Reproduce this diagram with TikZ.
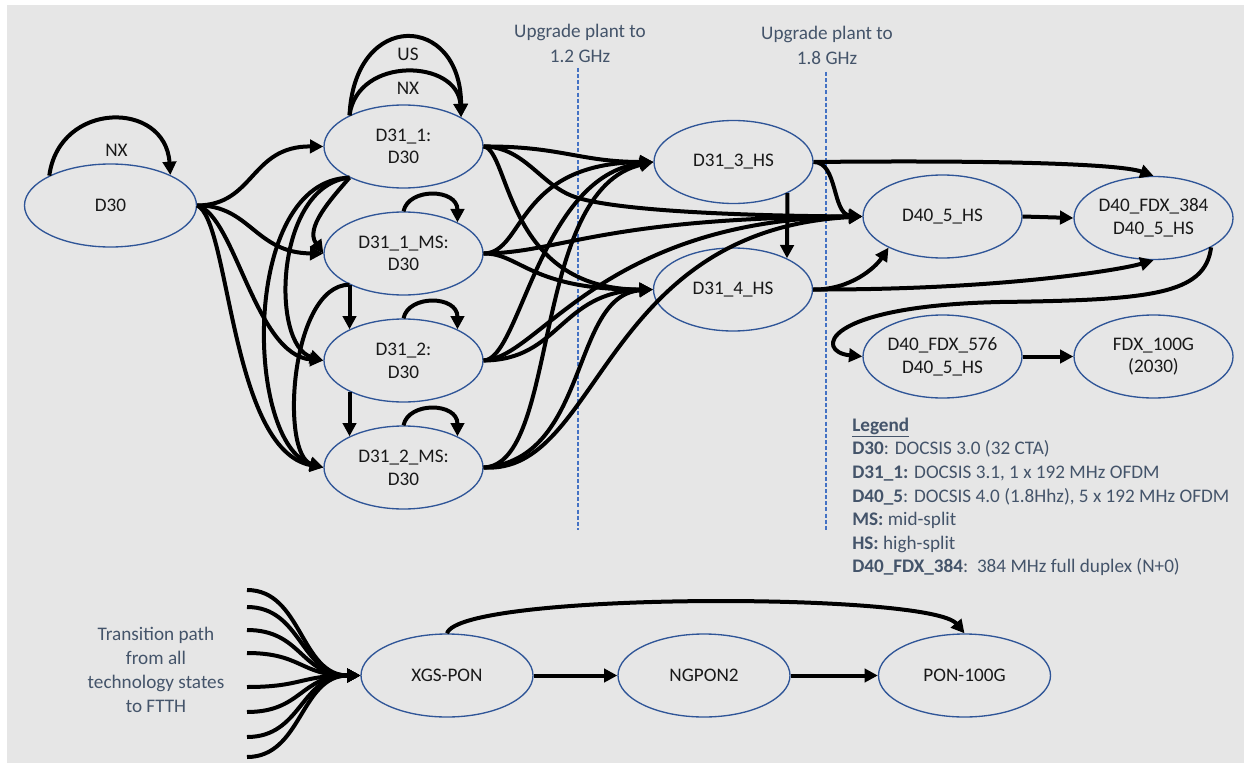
\documentclass[tikz,border=0pt]{standalone}
\usepackage{fontspec}
\setmainfont{Carlito}
\usetikzlibrary{shapes.geometric,arrows.meta}
\definecolor{bgray}{HTML}{E6E6E6}
\definecolor{rimblue}{HTML}{2F5597}
\definecolor{slate}{HTML}{44546A}
\definecolor{guide}{HTML}{4472C4}

\begin{document}
\begin{tikzpicture}[x=0.75pt,y=-0.75pt,
  state/.style={ellipse, draw=rimblue, line width=1pt, inner sep=0pt,
    minimum width=119.25pt, minimum height=62.25pt, align=center,
    font=\fontsize{14.4}{17}\selectfont, text=black!90},
  wide/.style={state, minimum width=129pt},
  looplabel/.style={font=\fontsize{14.4}{17}\selectfont, text=black!90, inner sep=0pt},
  flow/.style={draw=black, line width=3pt, line join=round,
    -{Triangle[length=10pt,width=10pt]}},
  guideline/.style={draw=guide, line width=0.9pt, dash pattern=on 3pt off 1.6pt},
  note/.style={text=slate, align=center, inner sep=0pt,
    font=\fontsize{14.4}{18.75}\selectfont},
]
% canvas
\useasboundingbox (0,0) rectangle (1244,763);
\fill[bgray] (7,5) rectangle (1244,763);

% plant upgrade markers
\coordinate (g1a) at (578,68);  \coordinate (g1b) at (578,530);
\coordinate (g2a) at (826,72);  \coordinate (g2b) at (826,530);
\draw[guideline] (g1a) -- (g1b);
\draw[guideline] (g2a) -- (g2b);
\node[note] (up12) at (580,43) {Upgrade plant to\\1.2 GHz};
\node[note] (up18) at (827,45) {Upgrade plant to\\1.8 GHz};

% DOCSIS states
\node[wide]  (d30)    at (110.5,205.5) {D30};
\node[state] (d311)   at (403.5,146.5) {D31\_1:\\D30};
\node[state] (d311ms) at (403.5,253.5) {D31\_1\_MS:\\D30};
\node[state] (d312)   at (403.5,360.5) {D31\_2:\\D30};
\node[state] (d312ms) at (403.5,467.5) {D31\_2\_MS:\\D30};
\node[state] (d313)   at (733.5,162)   {D31\_3\_HS};
\node[state] (d314)   at (733,289.5)   {D31\_4\_HS};
\node[state] (d405)   at (942.5,216.5) {D40\_5\_HS};
\node[state] (fdx384) at (1153.5,218)  {D40\_FDX\_384\\D40\_5\_HS};
\node[state] (fdx576) at (942.5,356.5) {D40\_FDX\_576\\D40\_5\_HS};
\node[state] (fdx100) at (1153.5,356.5){FDX\_100G\\(2030)};

% PON states
\node[wide] (xgs)   at (447,675.5)   {XGS-PON};
\node[wide] (ngpon) at (704,675.5)   {NGPON2};
\node[wide] (pon)   at (964.5,675.5) {PON-100G};

% self transitions
\draw[flow] (d30.154) .. controls +(10,-75) and +(-5,-75) .. (d30.27);
\node[looplabel] (nx0) at (116.5,150) {NX};
\draw[flow] (d311.150) .. controls +(5,-106) and +(0,-104) .. (d311.27);
\draw[flow] (d311.150) .. controls +(8,-60) and +(-3,-58) .. (d311.27);
\node[looplabel] (us1) at (408,54) {US};
\node[looplabel] (nx1) at (408,88) {NX};
\foreach \s in {d311ms,d312,d312ms}
  \draw[flow] (\s.north) .. controls +(5,-24) and +(0,-34) .. (\s.30);

% D30 onwards
\draw[flow] (d30.east) .. controls (255,205) and (250,146) .. (d311.west);
\draw[flow] (d30.east) .. controls (250,205) and (255,253) .. (d311ms.west);
\draw[flow] (d30.east) .. controls (235,215) and (255,355) .. (d312.west);
\draw[flow] (d30.east) .. controls (230,220) and (230,450) .. (d312ms.west);

% within the 1 GHz column
\draw[flow] (d311.210) .. controls (330,200) and (305,228) .. (d311ms.west);
\draw[flow] (d311.210) .. controls (275,185) and (270,345) .. (d312.west);
\draw[flow] (d311.210) .. controls (240,180) and (245,445) .. (d312ms.west);
\draw[flow] (d311ms.210) -- (d312.150);
\draw[flow] (d311ms.210) .. controls (290,285) and (280,455) .. (d312ms.west);
\draw[flow] (d312.210) -- (d312ms.150);

% 1.2 GHz upgrades
\coordinate (k1) at (575,197);
\draw[flow] (d311.east) .. controls (560,146) and (580,162) .. (d313.west);
\draw[flow] (d311.east) .. controls (525,147) and (540,185) .. (k1)
                        .. controls (620,212) and (760,216) .. (d405.west);
\draw[flow] (d311.east) .. controls (510,150) and (505,290) .. (d314.west);

\draw[flow] (d311ms.east) .. controls (525,253) and (515,163) .. (d313.west);
\draw[flow] (d311ms.east) .. controls (560,253) and (600,218) .. (d405.west);
\draw[flow] (d311ms.east) .. controls (520,253) and (530,290) .. (d314.west);

\draw[flow] (d312.east) .. controls (520,360) and (540,175) .. (d313.west);
\draw[flow] (d312.east) .. controls (560,360) and (560,292) .. (d314.west);
\draw[flow] (d312.east) .. controls (540,358) and (600,220) .. (d405.west);

\draw[flow] (d312ms.east) .. controls (560,465) and (530,190) .. (d313.west);
\draw[flow] (d312ms.east) .. controls (590,460) and (570,295) .. (d314.west);
\draw[flow] (d312ms.east) .. controls (600,475) and (600,230) .. (d405.west);

% 1.8 GHz upgrades
\draw[flow] (d313.330) -- (d314.30);
\draw[flow] (d313.east) .. controls (1000,160) and (1120,164) .. (fdx384.north);
\draw[flow] (d313.east) .. controls (838,162) and (832,214) .. (d405.west);
\draw[flow] (d314.east) .. controls (850,290) and (875,268) .. (d405.210);
\draw[flow] (d314.east) .. controls (1000,290) and (1120,270) .. (fdx384.south);
\draw[flow] (d405.east) -- (fdx384.west);
\coordinate (hook) at (1000,302);
\draw[flow] (fdx384.333) .. controls (1205,295) and (1150,300) .. (hook)
                         .. controls (820,306) and (815,352) .. (fdx576.west);
\draw[flow] (fdx576.east) -- (fdx100.west);

% fibre path
\draw[flow] (xgs.east) -- (ngpon.west);
\draw[flow] (ngpon.east) -- (pon.west);
\draw[flow] (xgs.north) .. controls (460,592) and (930,592) .. (pon.north);
\foreach \k/\y in {1/590,2/607,3/630,4/653,5/687,6/712,7/737,8/757}{
  \coordinate (f\k) at (247,\y);
  \draw[flow] (f\k) .. controls +(55,0) and +(-60,0) .. (xgs.west);
}
\node[note, font=\fontsize{14.4}{18}\selectfont] (ftth) at (156,670)
  {Transition path\\from all\\technology states\\to FTTH};

% legend
\node[anchor=north west, align=left, text=slate, inner sep=0pt,
      font=\fontsize{14.4}{17.7}\selectfont] (legend) at (852,417.5)
  {\underline{\textbf{Legend}}\\
   \textbf{D30}: DOCSIS 3.0 (32 CTA)\\
   \textbf{D31\_1:} DOCSIS 3.1, 1 x 192 MHz OFDM\\
   \textbf{D40\_5}: DOCSIS 4.0 (1.8Hhz), 5 x 192 MHz OFDM\\
   \textbf{MS:} mid-split\\
   \textbf{HS:} high-split\\
   \textbf{D40\_FDX\_384}:\ \ 384 MHz full duplex (N+0)};
\end{tikzpicture}
\end{document}
